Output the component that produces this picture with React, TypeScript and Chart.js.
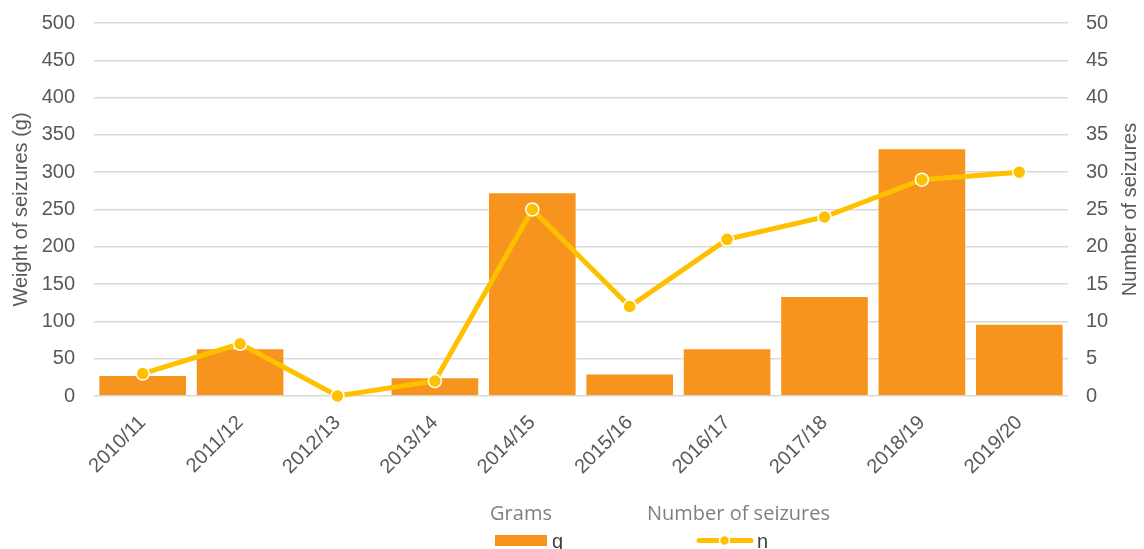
import React, { useEffect, useRef } from 'react';
import { Chart, registerables } from 'chart.js';

Chart.register(...registerables);

const categories = ['2010/11', '2011/12', '2012/13', '2013/14', '2014/15', '2015/16', '2016/17', '2017/18', '2018/19', '2019/20'];
const gramsValues = [28, 64, 0, 25, 273, 30, 64, 134, 332, 97];
const seizureCounts = [3, 7, 0, 2, 25, 12, 21, 24, 29, 30];
const seriesLabels = ['g', 'n'];
const legendTitles = ['Grams', 'Number of seizures'];
const leftAxisTitle = 'Weight of seizures (g)';
const rightAxisTitle = 'Number of seizures';

const BAR_COLOR = '#F7941D';
const LINE_COLOR = '#FFC000';
const TEXT_COLOR = '#595959';
const GRID_COLOR = '#D9D9D9';
const FONT = "'Liberation Sans', Arial, sans-serif";

const extrasPlugin = {
  id: 'extras',
  afterDraw(chart: any) {
    const ctx = chart.ctx;
    const area = chart.chartArea;
    ctx.save();
    // right axis title (reads bottom-to-top)
    ctx.translate(1130, (area.top + area.bottom) / 2);
    ctx.rotate(-Math.PI / 2);
    ctx.font = `20px ${FONT}`;
    ctx.fillStyle = TEXT_COLOR;
    ctx.textAlign = 'center';
    ctx.textBaseline = 'middle';
    ctx.fillText(rightAxisTitle, 0, 0);
    ctx.restore();

    // legend
    ctx.save();
    ctx.font = "20px 'Open Sans', sans-serif";
    ctx.fillStyle = '#808080';
    ctx.textAlign = 'center';
    ctx.textBaseline = 'alphabetic';
    ctx.fillText(legendTitles[0], 521, 520);
    ctx.fillText(legendTitles[1], 738.5, 520);

    // bar swatch
    ctx.fillStyle = BAR_COLOR;
    ctx.fillRect(495, 535, 52, 11);
    ctx.font = `20px ${FONT}`;
    ctx.fillStyle = '#404040';
    ctx.textAlign = 'left';
    ctx.fillText(seriesLabels[0], 552, 548);

    // line swatch
    ctx.strokeStyle = LINE_COLOR;
    ctx.lineWidth = 5;
    ctx.lineCap = 'round';
    ctx.beginPath();
    ctx.moveTo(699, 540.5);
    ctx.lineTo(751, 540.5);
    ctx.stroke();
    ctx.beginPath();
    ctx.arc(724.5, 540.5, 5, 0, Math.PI * 2);
    ctx.fillStyle = LINE_COLOR;
    ctx.fill();
    ctx.lineWidth = 1.5;
    ctx.strokeStyle = '#FFFFFF';
    ctx.stroke();
    ctx.fillStyle = '#404040';
    ctx.fillText(seriesLabels[1], 757, 548);
    ctx.restore();
  },
};

export default function App() {
  const canvasRef = useRef<HTMLCanvasElement | null>(null);

  useEffect(() => {
    if (!canvasRef.current) return;
    const chart = new Chart(canvasRef.current, {
      type: 'bar',
      data: {
        labels: categories,
        datasets: [
          {
            type: 'line',
            label: seriesLabels[1],
            data: seizureCounts,
            yAxisID: 'y1',
            borderColor: LINE_COLOR,
            backgroundColor: LINE_COLOR,
            borderWidth: 5,
            pointRadius: 6.5,
            pointBorderColor: '#FFFFFF',
            pointBorderWidth: 1.5,
            pointBackgroundColor: LINE_COLOR,
            tension: 0,
            clip: false,
            order: 0,
          } as any,
          {
            type: 'bar',
            label: seriesLabels[0],
            data: gramsValues,
            yAxisID: 'y',
            backgroundColor: BAR_COLOR,
            borderColor: 'rgba(255,255,255,0.35)',
            borderWidth: 1,
            categoryPercentage: 1,
            barPercentage: 0.91,
            order: 1,
          } as any,
        ],
      },
      options: {
        responsive: false,
        animation: false,
        layout: { padding: { top: 23, left: 0, right: 0, bottom: 0 } },
        plugins: {
          legend: { display: false },
          tooltip: { enabled: false },
        },
        scales: {
          x: {
            grid: { display: false, drawTicks: false },
            border: { display: false },
            ticks: {
              color: TEXT_COLOR,
              font: { size: 20, family: FONT },
              maxRotation: 45,
              minRotation: 45,
              padding: 15,
              autoSkip: false,
            },
            afterFit(scale: any) {
              scale.height = 153;
              scale.paddingLeft = 0;
              scale.paddingRight = 0;
            },
          },
          y: {
            position: 'left',
            min: 0,
            max: 500,
            grid: { color: GRID_COLOR, lineWidth: 1.5, drawTicks: false },
            border: { display: false },
            ticks: {
              stepSize: 50,
              color: TEXT_COLOR,
              font: { size: 20, family: FONT },
              padding: 19,
            },
            title: {
              display: true,
              text: leftAxisTitle,
              color: TEXT_COLOR,
              font: { size: 20, family: FONT },
              padding: { top: 9, bottom: 0 },
            },
            afterFit(scale: any) {
              scale.width = 94;
              scale.paddingTop = 0;
              scale.paddingBottom = 0;
            },
          },
          y1: {
            position: 'right',
            min: 0,
            max: 50,
            grid: { display: false, drawTicks: false },
            border: { display: false },
            ticks: {
              stepSize: 5,
              color: TEXT_COLOR,
              font: { size: 20, family: FONT },
              padding: 18,
            },
            afterFit(scale: any) {
              scale.width = 76;
              scale.paddingTop = 0;
              scale.paddingBottom = 0;
            },
          },
        },
      },
      plugins: [extrasPlugin],
    });
    return () => chart.destroy();
  }, []);

  return (
    <div style={{ position: 'absolute', left: 0, top: 0, width: 1144, height: 549, background: '#fff' }}>
      <canvas ref={canvasRef} width={1144} height={549} style={{ display: 'block' }} />
    </div>
  );
}
